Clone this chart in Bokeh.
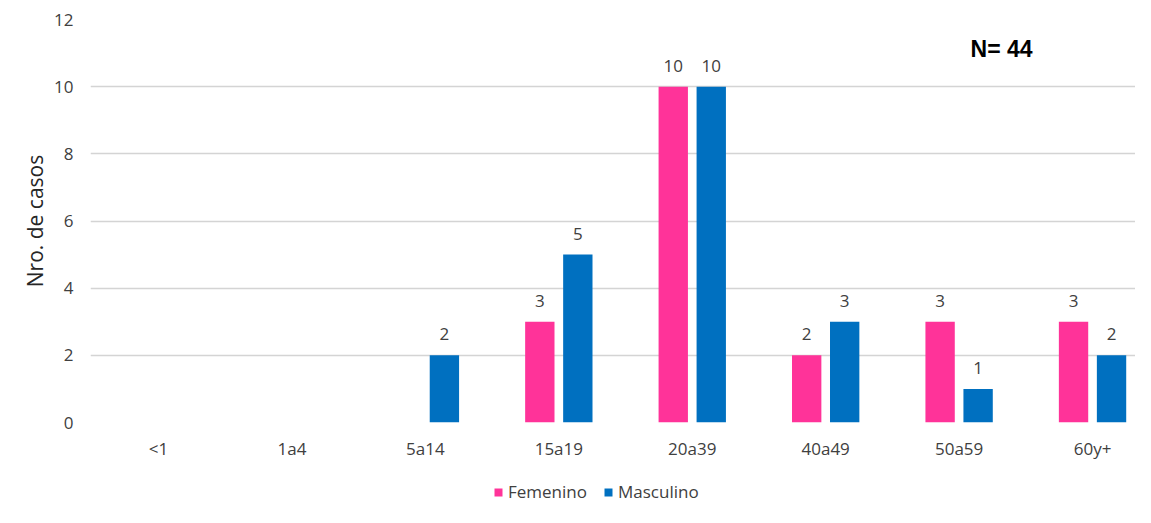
from bokeh.plotting import figure
from bokeh.layouts import column
from bokeh.models import (Range1d, FixedTicker, ColumnDataSource, LabelSet,
                          Legend, LegendItem, Label)
from bokeh.core.properties import value
from bokeh.transform import dodge
from bokeh.embed import file_html
from bokeh.resources import INLINE

categories = ["<1", "1a4", "5a14", "15a19", "20a39", "40a49", "50a59", "60y+"]
femenino = [0, 0, 0, 3, 10, 2, 3, 3]
masculino = [0, 0, 2, 5, 10, 3, 1, 2]
y_ticks = [0, 2, 4, 6, 8, 10, 12]
series_names = ["Femenino", "Masculino"]
n_text = "N= 44"
y_title = "Nro. de casos"

PINK = "#FF3399"
BLUE = "#0070C0"
TXT = "#404040"
FONT = "Open Sans"

idx = list(range(len(categories)))
src = ColumnDataSource(dict(x=idx, fem=femenino, mas=masculino))

p = figure(width=1135, height=470, x_range=Range1d(-0.51, 7.322), y_range=Range1d(0, 12),
           output_backend="svg", toolbar_location=None,
           min_border_left=90, min_border_right=0, min_border_top=19, min_border_bottom=48)
p.outline_line_color = None
p.background_fill_color = "white"

off = 0.1424
w = 0.22
p.vbar(x=dodge("x", -off, range=p.x_range), top="fem", width=w, source=src,
       fill_color=PINK, line_color=None)
p.vbar(x=dodge("x", off, range=p.x_range), top="mas", width=w, source=src,
       fill_color=BLUE, line_color=None)

# value labels (non-zero only)
lx, ly, lt = [], [], []
for i, v in zip(idx, femenino):
    if v:
        lx.append(i - off); ly.append(v); lt.append(str(v))
for i, v in zip(idx, masculino):
    if v:
        lx.append(i + off); ly.append(v); lt.append(str(v))
lsrc = ColumnDataSource(dict(x=lx, y=ly, t=lt))
p.add_layout(LabelSet(x="x", y="y", text="t", source=lsrc, y_offset=15,
                      text_align="center", text_baseline="bottom",
                      text_font=value(FONT), text_font_size="17px", text_color=TXT))

p.add_layout(Label(x=6.318, y=11.12, text=n_text, text_align="center", text_baseline="middle",
                   text_font="Liberation Sans", text_font_style="bold",
                   text_font_size="23px", text_color="#000000"))

# axes
p.xaxis.ticker = FixedTicker(ticks=idx)
p.xaxis.major_label_overrides = {i: c for i, c in zip(idx, categories)}
p.yaxis.ticker = FixedTicker(ticks=y_ticks)
for ax in (p.xaxis[0], p.yaxis[0]):
    ax.axis_line_color = None
    ax.major_tick_line_color = None
    ax.minor_tick_line_color = None
    ax.major_label_text_font = FONT
    ax.major_label_text_font_size = "17px"
    ax.major_label_text_color = TXT
p.xaxis.major_label_standoff = 8
p.yaxis.major_label_standoff = 11
p.yaxis.axis_label = y_title
p.yaxis.axis_label_text_font = FONT
p.yaxis.axis_label_text_font_size = "21px"
p.yaxis.axis_label_text_font_style = "normal"
p.yaxis.axis_label_text_color = "#262626"
p.yaxis.axis_label_standoff = 2

p.xgrid.grid_line_color = None
p.ygrid.grid_line_color = "#d4d4d4"
p.ygrid.grid_line_width = 1.5

# legend strip below the chart (its bars lie outside its view; only the legend shows)
lf = figure(width=1135, height=35, x_range=Range1d(-100, -99), y_range=Range1d(0, 1),
            output_backend="svg", toolbar_location=None,
            x_axis_type=None, y_axis_type=None,
            min_border_left=90, min_border_right=0, min_border_top=0, min_border_bottom=0)
lf.outline_line_color = None
lf.xgrid.visible = False
lf.ygrid.visible = False
lr1 = lf.vbar(x="x", top="fem", width=w, source=src, fill_color=PINK, line_color=None)
lr2 = lf.vbar(x="x", top="mas", width=w, source=src, fill_color=BLUE, line_color=None)
legend = Legend(items=[LegendItem(label=series_names[0], renderers=[lr1]),
                       LegendItem(label=series_names[1], renderers=[lr2])],
                orientation="horizontal", location=(403, 2),
                glyph_width=10, glyph_height=10, label_standoff=5, spacing=16,
                padding=0, margin=0, border_line_color=None, background_fill_alpha=0,
                label_text_font=FONT, label_text_font_size="17px", label_text_color=TXT)
lf.add_layout(legend, "center")

open("out.html", "w").write(file_html(column(p, lf, spacing=0), INLINE))
